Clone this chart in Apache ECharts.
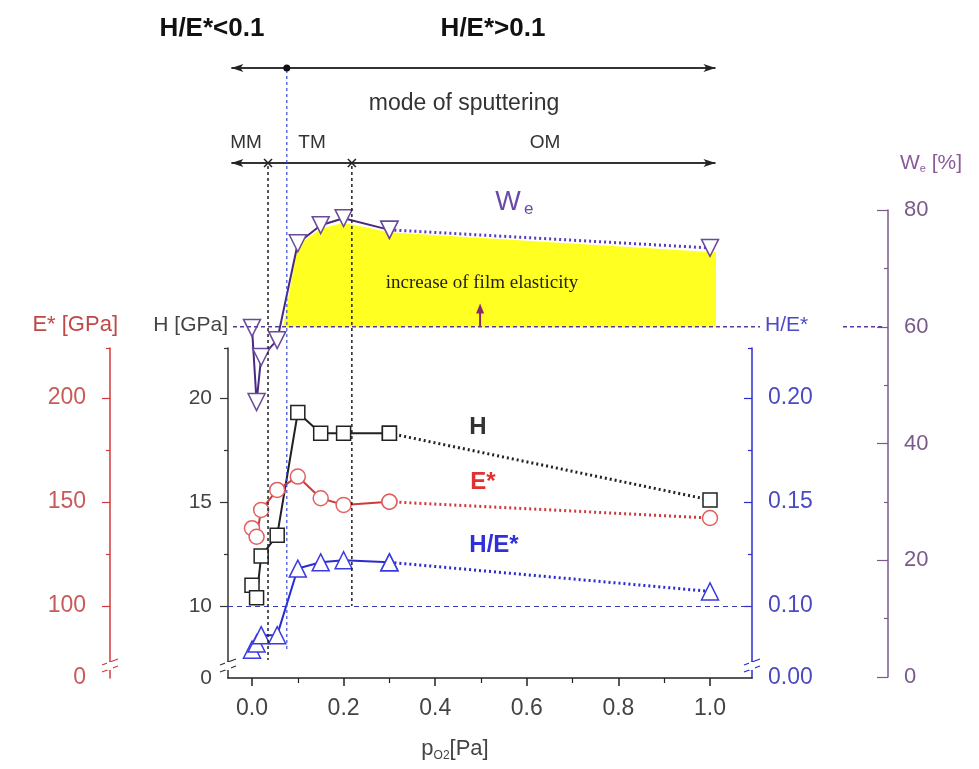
<!DOCTYPE html>
<html>
<head>
<meta charset="utf-8">
<script src="https://cdn.jsdelivr.net/npm/echarts@6/dist/echarts.min.js"></script>
<style>
  html, body { margin: 0; padding: 0; background: #fff; }
  #chart { width: 979px; height: 769px; }
</style>
</head>
<body>
<div id="chart"></div>
<script>
// data
const pressure = [0, 0.01, 0.02, 0.055, 0.1, 0.15, 0.2, 0.3, 1.0];
const hardness = [11.0, 10.4, 12.4, 13.4, 19.3, 18.3, 18.3, 18.3, 15.1];
const modulus = [137.4, 133.3, 146.2, 155.8, 162.2, 151.8, 148.6, 150.1, 142.3];
const ratio = [0.079, 0.082, 0.086, 0.086, 0.118, 0.121, 0.122, 0.121, 0.107];
const elastic = [59.8, 47.1, 54.8, 57.7, 74.3, 77.4, 78.6, 76.6, 73.5];

// yellow band (top edge of the filled region)
const fillX = [0.068, 0.1, 0.15, 0.2, 0.3, 1.0, 1.013];
const fillTop = [60, 74.0, 76.8, 77.8, 76.2, 72.8, 72.8];

const xLabels = [0, 0.2, 0.4, 0.6, 0.8, 1.0];
const xMinor = [0.1, 0.3, 0.5, 0.7, 0.9];
const hLabels = [6.54, 10, 15, 20];
const hMinor = [12.5, 17.5, 22.4];
const eLabels = [65.4, 100, 150, 200];
const eMinor = [125, 175, 224];
const rLabels = [0.0654, 0.10, 0.15, 0.20];
const rMinor = [0.125, 0.175, 0.224];
const wLabels = [0, 20, 40, 60, 80];
const wMinor = [10, 30, 50, 70];

const X_MIN = -0.0524, X_MAX = 1.0917;

const C_H = '#222', C_E = '#d03a3a', C_R = '#2b2bd0', C_W = '#6a4a9a';
const FONT = 'Liberation Sans, Arial, sans-serif';

function pts(ys, from, to) {
  return pressure.slice(from, to).map((x, i) => [x, ys[from + i]]);
}

function minorAxis(grid, pos, offset, min, max, ticks, color, inside) {
  return {
    gridIndex: grid, type: 'value', position: pos, offset: offset, min: min, max: max,
    axisLine: { show: false, onZero: false }, axisLabel: { show: false }, splitLine: { show: false },
    axisTick: { show: true, inside: inside, length: 4, customValues: ticks, lineStyle: { color: color, width: 1.2 } }
  };
}

const chart = echarts.init(document.getElementById('chart'));

const option = {
  animation: false,
  backgroundColor: '#fff',
  textStyle: { fontFamily: FONT },
  grid: [
    { left: 228, right: 227, top: 348, bottom: 91 },
    { left: 228, right: 227, top: 210, bottom: 92 }
  ],
  xAxis: [
    {
      gridIndex: 0, type: 'value', min: X_MIN, max: X_MAX, position: 'bottom',
      axisLine: { onZero: false, lineStyle: { color: '#222', width: 1.5 } },
      axisTick: { customValues: [0, 0.2, 0.4, 0.6, 0.8, 1.0], length: 8, lineStyle: { color: '#222', width: 1.5 } },
      axisLabel: { customValues: xLabels, formatter: v => v.toFixed(1), margin: 19, fontSize: 23, color: '#444' },
      splitLine: { show: false },
      name: 'p{s|O2}[Pa]', nameLocation: 'middle', nameGap: 58,
      nameTextStyle: { fontSize: 22, color: '#444', padding: [0, 70, 0, 0],
        rich: { s: { fontSize: 12, color: '#444', padding: [14, 0, 0, 0] } } }
    },
    {
      gridIndex: 0, type: 'value', min: X_MIN, max: X_MAX, position: 'bottom',
      axisLine: { show: false, onZero: false }, axisLabel: { show: false }, splitLine: { show: false },
      axisTick: { customValues: xMinor, length: 5, lineStyle: { color: '#222', width: 1.2 } }
    },
    { gridIndex: 1, type: 'value', min: X_MIN, max: X_MAX, show: false }
  ],
  yAxis: [
    {
      gridIndex: 0, type: 'value', position: 'left', min: 6.54, max: 22.4,
      axisLine: { show: true, onZero: false, lineStyle: { color: '#333', width: 1.5 } },
      axisTick: { show: true, customValues: [10, 15, 20], length: 8, lineStyle: { color: '#333', width: 1.2 } },
      axisLabel: { customValues: hLabels, formatter: v => v < 7 ? '0' : String(v), margin: 16, fontSize: 21, color: '#444' },
      splitLine: { show: false },
      name: 'H [GPa]', nameLocation: 'end', nameGap: 23,
      nameTextStyle: { fontSize: 21, color: '#444', align: 'right', verticalAlign: 'middle' }
    },
    {
      gridIndex: 0, type: 'value', position: 'left', offset: 118, min: 65.4, max: 224,
      axisLine: { show: true, onZero: false, lineStyle: { color: C_E, width: 1.5 } },
      axisTick: { show: true, customValues: [100, 150, 200], length: 8, lineStyle: { color: C_E, width: 1.2 } },
      axisLabel: { customValues: eLabels, formatter: v => v < 70 ? '0' : String(v), margin: 24, fontSize: 23, color: '#c85a5a' },
      splitLine: { show: false },
      name: 'E* [GPa]', nameLocation: 'end', nameGap: 23,
      nameTextStyle: { fontSize: 22, color: '#c04848', align: 'right', verticalAlign: 'middle', padding: [0, -8, 0, 0] }
    },
    {
      gridIndex: 0, type: 'value', position: 'right', min: 0.0654, max: 0.224,
      axisLine: { show: true, onZero: false, lineStyle: { color: C_R, width: 1.5 } },
      axisTick: { show: true, inside: true, customValues: [0.10, 0.15, 0.20], length: 8, lineStyle: { color: C_R, width: 1.2 } },
      axisLabel: { customValues: rLabels, formatter: v => v < 0.07 ? '0.00' : v.toFixed(2), margin: 16, fontSize: 23, color: '#4a4ac8' },
      splitLine: { show: false },
      name: 'H/E*', nameLocation: 'end', nameGap: 23,
      nameTextStyle: { fontSize: 21, color: '#4a4ac8', align: 'left', verticalAlign: 'middle', padding: [0, 0, 0, 13] }
    },
    {
      gridIndex: 1, type: 'value', position: 'right', offset: 136, min: 0, max: 80,
      axisLine: { show: true, onZero: false, lineStyle: { color: '#7a5a8a', width: 1.5 } },
      axisTick: { show: true, inside: true, customValues: wLabels, length: 11, lineStyle: { color: '#7a5a8a', width: 1.2 } },
      axisLabel: { customValues: wLabels, margin: 16, fontSize: 22, color: '#7a5a8a' },
      splitLine: { show: false },
      name: 'W{s|e} [%]', nameLocation: 'end', nameGap: 47,
      nameTextStyle: { fontSize: 21, color: '#8a5a9a', align: 'left', verticalAlign: 'middle', padding: [0, 0, 0, 12],
        rich: { s: { fontSize: 11, color: '#8a5a9a', padding: [12, 0, 0, 0] } } }
    },
    minorAxis(0, 'left', 0, 6.54, 22.4, hMinor, '#333', false),
    minorAxis(0, 'left', 118, 65.4, 224, eMinor, C_E, false),
    minorAxis(0, 'right', 0, 0.0654, 0.224, rMinor, C_R, true),
    minorAxis(1, 'right', 136, 0, 80, wMinor, '#7a5a8a', true)
  ],
  series: [
    {
      name: 'fill', type: 'line', xAxisIndex: 2, yAxisIndex: 3, silent: true, z: 1,
      data: fillX.map((x, i) => [x, fillTop[i]]), showSymbol: false,
      lineStyle: { width: 0 }, areaStyle: { color: '#ffff22', opacity: 1, origin: 60 }
    },
    {
      name: 'We', type: 'line', xAxisIndex: 2, yAxisIndex: 3, z: 5, data: pts(elastic, 0, 8),
      symbol: 'triangle', symbolRotate: 180, symbolSize: 17,
      itemStyle: { color: '#fff', borderColor: C_W, borderWidth: 1.5 },
      lineStyle: { color: '#4a2a80', width: 2 }
    },
    {
      name: 'We dotted', type: 'line', xAxisIndex: 2, yAxisIndex: 3, z: 4, data: pts(elastic, 7, 9),
      symbol: 'triangle', symbolRotate: 180, symbolSize: 17,
      itemStyle: { color: '#fff', borderColor: C_W, borderWidth: 1.5 },
      lineStyle: { color: '#5a3ac0', width: 3, type: [2, 3] }
    },
    {
      name: 'H', type: 'line', xAxisIndex: 0, yAxisIndex: 0, z: 5, data: pts(hardness, 0, 8),
      symbol: 'rect', symbolSize: 14,
      itemStyle: { color: '#fff', borderColor: C_H, borderWidth: 1.5 },
      lineStyle: { color: C_H, width: 2 }
    },
    {
      name: 'H dotted', type: 'line', xAxisIndex: 0, yAxisIndex: 0, z: 4, data: pts(hardness, 7, 9),
      symbol: 'rect', symbolSize: 14,
      itemStyle: { color: '#fff', borderColor: C_H, borderWidth: 1.5 },
      lineStyle: { color: C_H, width: 3, type: [2, 3] }
    },
    {
      name: 'E*', type: 'line', xAxisIndex: 0, yAxisIndex: 1, z: 5, data: pts(modulus, 0, 8),
      symbol: 'circle', symbolSize: 15,
      itemStyle: { color: '#fff', borderColor: '#e06060', borderWidth: 1.5 },
      lineStyle: { color: C_E, width: 2 }
    },
    {
      name: 'E* dotted', type: 'line', xAxisIndex: 0, yAxisIndex: 1, z: 4, data: pts(modulus, 7, 9),
      symbol: 'circle', symbolSize: 15,
      itemStyle: { color: '#fff', borderColor: '#e06060', borderWidth: 1.5 },
      lineStyle: { color: C_E, width: 3, type: [2, 3] }
    },
    {
      name: 'H/E*', type: 'line', xAxisIndex: 0, yAxisIndex: 2, z: 5, data: pts(ratio, 0, 8),
      symbol: 'triangle', symbolSize: 17,
      itemStyle: { color: '#fff', borderColor: '#3a3ae0', borderWidth: 1.5 },
      lineStyle: { color: C_R, width: 2 },
      markLine: {
        silent: true, symbol: 'none', label: { show: false },
        lineStyle: { color: '#3a3ab0', width: 1.2, type: [5, 4] },
        data: [{ yAxis: 0.10 }]
      }
    },
    {
      name: 'H/E* dotted', type: 'line', xAxisIndex: 0, yAxisIndex: 2, z: 4, data: pts(ratio, 7, 9),
      symbol: 'triangle', symbolSize: 17,
      itemStyle: { color: '#fff', borderColor: '#3a3ae0', borderWidth: 1.5 },
      lineStyle: { color: C_R, width: 3, type: [2, 3] }
    }
  ]
};

chart.setOption(option);

// annotations placed from the axes
const X = v => chart.convertToPixel({ xAxisIndex: 0 }, v);
const YW = v => chart.convertToPixel({ yAxisIndex: 3 }, v);
const g = [];
function line(x1, y1, x2, y2, stroke, width, dash) {
  g.push({ type: 'line', silent: true, z: 50, shape: { x1, y1, x2, y2 },
    style: { stroke: stroke, lineWidth: width, lineDash: dash || null } });
}
function text(x, y, t, font, fill, align) {
  g.push({ type: 'text', silent: true, z: 60, x: x, y: y,
    style: { text: t, font: font, fill: fill, align: align || 'center', verticalAlign: 'middle' } });
}
function head(x, y, dir, color) {
  // dir: 1 right, -1 left, 0 up
  let p;
  if (dir === 0) p = [[x, y], [x - 4, y + 10], [x + 4, y + 10]];
  else p = [[x, y], [x - dir * 12, y - 4], [x - dir * 9, y], [x - dir * 12, y + 4]];
  g.push({ type: 'polygon', silent: true, z: 55, shape: { points: p }, style: { fill: color } });
}

const xl = X(-0.045), xr = X(1.012);
text(212, 29, 'H/E*<0.1', 'bold 26px ' + FONT, '#111');
text(493, 29, 'H/E*>0.1', 'bold 26px ' + FONT, '#111');
line(xl, 68, xr, 68, '#333', 2);
head(xl, 68, -1, '#222'); head(xr, 68, 1, '#222');
g.push({ type: 'circle', silent: true, z: 56, shape: { cx: X(0.076), cy: 68, r: 3.5 }, style: { fill: '#111' } });
text(464, 104, 'mode of sputtering', '23px ' + FONT, '#333');
text(246, 143, 'MM', '19px ' + FONT, '#333');
text(312, 143, 'TM', '19px ' + FONT, '#333');
text(545, 143, 'OM', '19px ' + FONT, '#333');
line(xl, 163, xr, 163, '#333', 2);
head(xl, 163, -1, '#222'); head(xr, 163, 1, '#222');
[0.035, 0.218].forEach(v => {
  const x = X(v);
  line(x - 4, 159, x + 4, 167, '#222', 1.5);
  line(x - 4, 167, x + 4, 159, '#222', 1.5);
});
line(X(0.035), 166, X(0.035), 660, '#222', 1.5, [3, 3]);
line(X(0.218), 166, X(0.218), 606, '#222', 1.5, [3, 3]);
line(X(0.076), 70, X(0.076), 650, '#3a4ad0', 1.2, [3, 3]);

const y60 = YW(60);
line(233, y60, 760, y60, '#5a3aa0', 1.5, [4, 3]);
line(843, y60, 884, y60, '#5a3aa0', 1.5, [4, 3]);

const xa = X(0.498);
line(xa, y60, xa, YW(62.5), '#8a2a6a', 2);
head(xa, YW(64), 0, '#8a2a6a');
text(482, 283, 'increase of film elasticity', '19px Liberation Serif, Times New Roman, serif', '#222');

text(478, 427, 'H', 'bold 24px ' + FONT, '#333');
text(483, 482, 'E*', 'bold 24px ' + FONT, '#e03030');
text(494, 545, 'H/E*', 'bold 24px ' + FONT, '#3030d8');
text(508, 203, 'W', '27px ' + FONT, '#6a4aa8');
text(524, 209, 'e', '17px ' + FONT, '#6a4aa8', 'left');

// axis breaks
[[110, C_E], [228, '#333'], [752, C_R]].forEach(([x, c]) => {
  g.push({ type: 'rect', silent: true, z: 52, shape: { x: x - 3, y: 662, width: 6, height: 8 }, style: { fill: '#fff' } });
  line(x - 8, 665, x + 8, 659, c, 1.3);
  line(x - 8, 672, x + 8, 666, c, 1.3);
});

chart.setOption({ graphic: g });
</script>
</body>
</html>
